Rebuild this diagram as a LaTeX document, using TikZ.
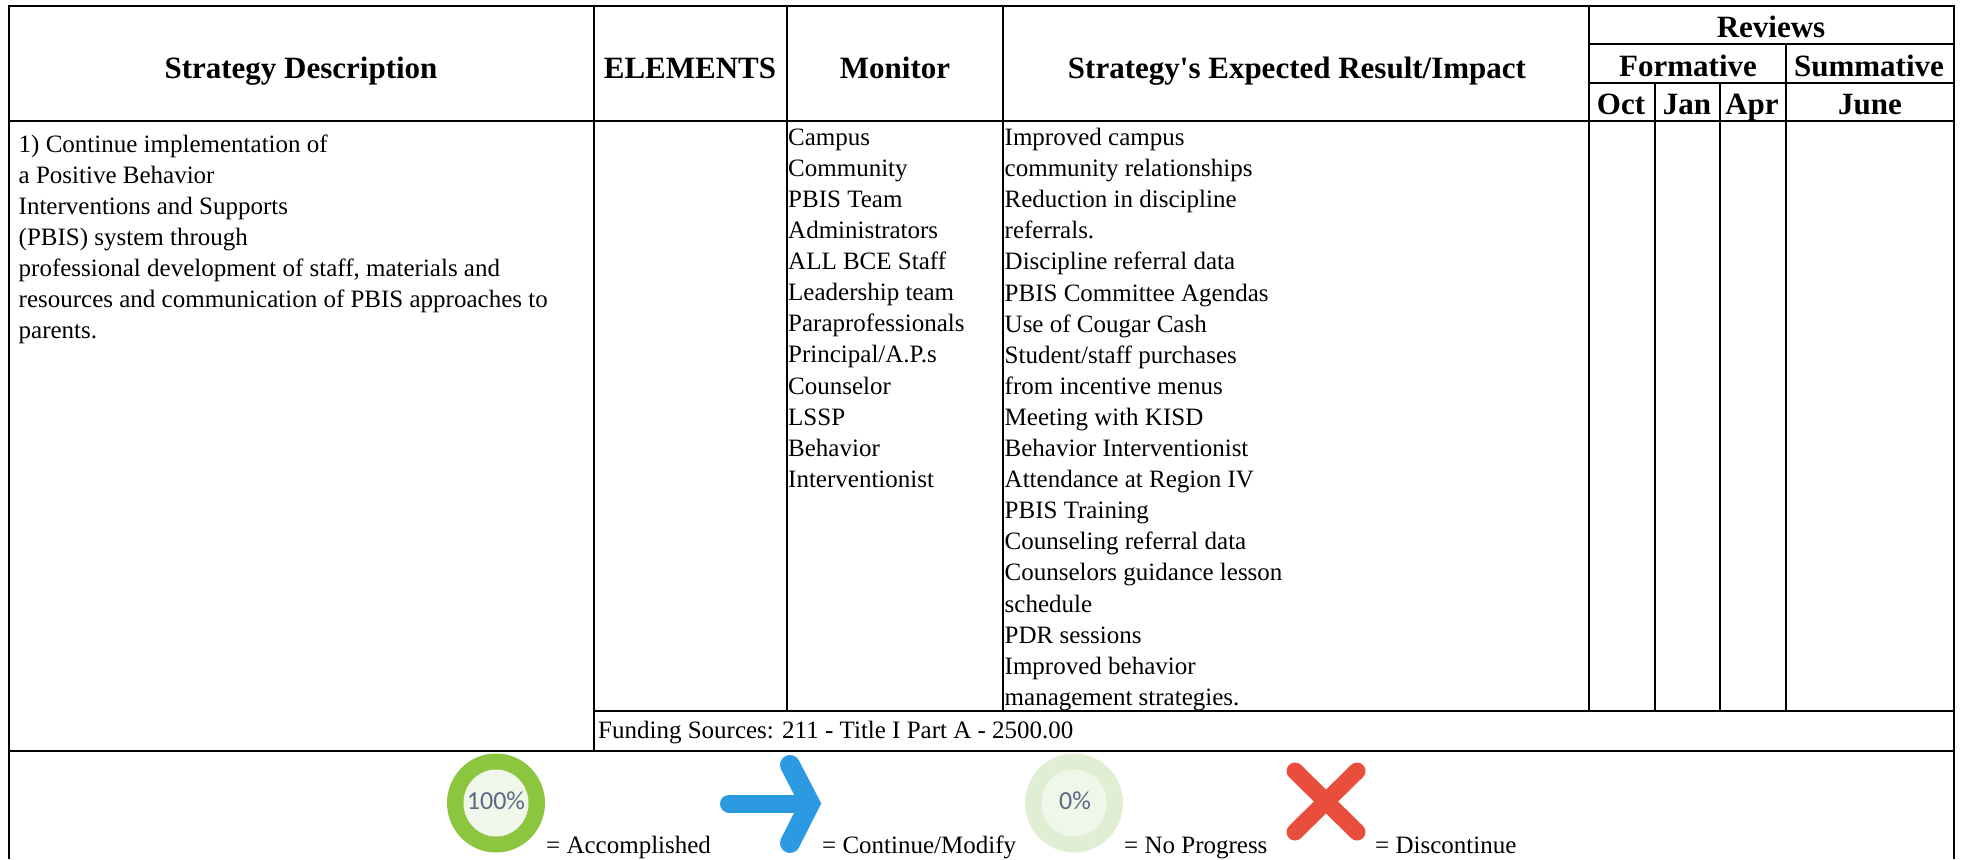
\documentclass[tikz,border=0pt]{standalone}
\usepackage{fontspec}
\setmainfont{Liberation Serif}[Ligatures=TeXOff]
\newfontfamily\iconfont{Carlito}
\definecolor{okgreen}{HTML}{8CC63F}
\definecolor{okpale}{HTML}{F0F7EA}
\definecolor{nogreen}{HTML}{E0EFD3}
\definecolor{arrowblue}{HTML}{2B9AE3}
\definecolor{crossred}{HTML}{E94E3D}
\definecolor{pcttext}{HTML}{5A6A80}
\tikzset{
  grid/.style={line width=2pt,black},
  head/.style={font=\fontsize{31}{31}\selectfont\bfseries,inner sep=0pt,anchor=base},
  cell/.style={font=\fontsize{25}{31.1}\selectfont,inner sep=0pt,anchor=north west,align=left},
  legend/.style={font=\fontsize{25}{26}\selectfont,inner sep=0pt,anchor=base west},
  pct/.style={font=\iconfont\fontsize{26}{26}\selectfont,text=pcttext,inner sep=0pt},
}
\begin{document}
\begin{tikzpicture}[x=1pt,y=-1pt]
\useasboundingbox (0,0) rectangle (1961,859);
% grid
\draw[grid] (9,859) -- (9,6) -- (1953.5,6) -- (1953.5,859);
\draw[grid] (9,121) -- (1953.5,121);
\draw[grid] (594,711) -- (1953.5,711);
\draw[grid] (9,751) -- (1953.5,751);
\draw[grid] (594,6) -- (594,751);
\draw[grid] (786.5,6) -- (786.5,711);
\draw[grid] (1003,6) -- (1003,711);
\draw[grid] (1588.5,6) -- (1588.5,711);
\draw[grid] (1588.5,44) -- (1953.5,44);
\draw[grid] (1588.5,82.5) -- (1953.5,82.5);
\draw[grid] (1654.5,82.5) -- (1654.5,711);
\draw[grid] (1720,82.5) -- (1720,711);
\draw[grid] (1786,44) -- (1786,711);
% header
\node[head] (h1) at (301,78) {Strategy Description};
\node[head] (h2) at (690,78) {ELEMENTS};
\node[head] (h3) at (895,78) {Monitor};
\node[head] (h4) at (1297,78) {Strategy's Expected Result/Impact};
\node[head] (h5) at (1771,37.5) {Reviews};
\node[head] (h6) at (1688,76.5) {Formative};
\node[head] (h7) at (1869,76.5) {Summative};
\node[head] (h8) at (1621,114) {Oct};
\node[head] (h9) at (1687,114) {Jan};
\node[head] (h10) at (1752,114) {Apr};
\node[head] (h11) at (1870,114) {June};
% cells
\node[cell] (c1) at (18.5,134.5) {1) Continue implementation of\\a Positive Behavior\\Interventions and Supports\\(PBIS) system through\\professional development of staff, materials and\\resources and communication of PBIS approaches to\\parents.};
\node[cell] (c2) at (788,128.5) {Campus\\Community\\PBIS Team\\Administrators\\ALL BCE Staff\\Leadership team\\Paraprofessionals\\Principal/A.P.s\\Counselor\\LSSP\\Behavior\\Interventionist};
\node[cell] (c3) at (1004.5,128) {Improved campus\\community relationships\\Reduction in discipline\\referrals.\\Discipline referral data\\PBIS Committee Agendas\\Use of Cougar Cash\\Student/staff purchases\\from incentive menus\\Meeting with KISD\\Behavior Interventionist\\Attendance at Region IV\\PBIS Training\\Counseling referral data\\Counselors guidance lesson\\schedule\\PDR sessions\\Improved behavior\\management strategies.};
\node[cell] (c4) at (598,721) {Funding Sources: 211 - Title I Part A - 2500.00};
% legend icons
\fill[okgreen] (496,803) ellipse (49 and 49.5);
\fill[okpale] (496,803) ellipse (32.5 and 33.5);
\node[pct] (p1) at (496,801) {100\%};
\node[legend] (l1) at (546,853) {= Accomplished};
\draw[arrowblue,line width=18pt,line cap=round] (729,803.5) -- (805,803.5);
\draw[arrowblue,line width=20pt,line cap=round,line join=miter] (790,765) -- (810,803.5) -- (790,843);
\node[legend] (l2) at (822,853) {= Continue/Modify};
\fill[nogreen] (1074,803) ellipse (49 and 49.5);
\fill[okpale] (1074,803) ellipse (32.5 and 33.5);
\node[pct] (p2) at (1075,801) {0\%};
\node[legend] (l3) at (1124,853) {= No Progress};
\draw[crossred,line width=17pt,line cap=round] (1295,771) -- (1357,832);
\draw[crossred,line width=17pt,line cap=round] (1357,771) -- (1295,832);
\node[legend] (l4) at (1375,853) {= Discontinue};
\end{tikzpicture}
\end{document}
